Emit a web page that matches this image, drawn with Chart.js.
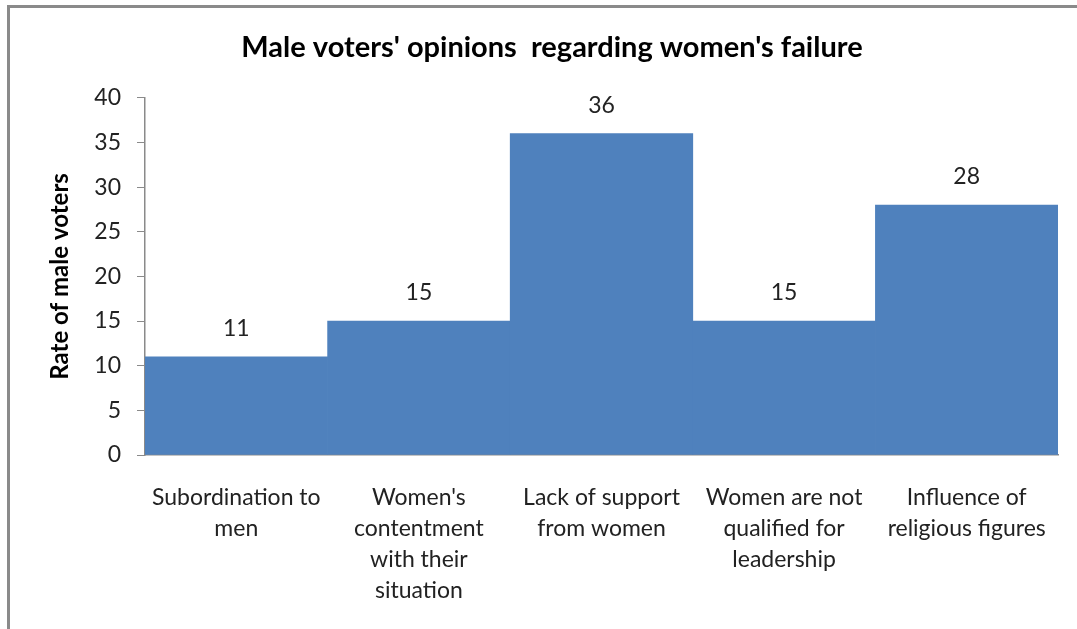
<!DOCTYPE html>
<html>
<head>
<meta charset="utf-8">
<script src="https://cdn.jsdelivr.net/npm/chart.js@4.4.1/dist/chart.umd.min.js"></script>
<style>
    html, body { margin: 0; padding: 0; background: #fff; }
    #wrap { position: relative; width: 1077px; height: 629px; overflow: hidden; }
    #frame {
        position: absolute; left: 7px; top: 5px; width: 1200px; height: 700px;
        border-top: 3px solid #8a8a8a; border-left: 3px solid #8a8a8a;
    }
    #chart { position: absolute; left: 0; top: 0; }
</style>
</head>
<body>
<div id="wrap">
    <div id="frame"></div>
    <canvas id="chart" width="1077" height="629"></canvas>
</div>
<script>
// Chart data
const categories = [
    ['Subordination to', 'men'],
    ["Women's", 'contentment', 'with their', 'situation'],
    ['Lack of support', 'from women'],
    ['Women are not', 'qualified for', 'leadership'],
    ['Influence of', 'religious figures']
];
const rates = [11, 15, 36, 15, 28];
const yTicks = [0, 5, 10, 15, 20, 25, 30, 35, 40];

const FONT = "Lato, 'Open Sans', sans-serif";

// Draw the value above each bar
const valueLabels = {
    id: 'valueLabels',
    afterDatasetsDraw(chart) {
        const ctx = chart.ctx;
        const meta = chart.getDatasetMeta(0);
        ctx.save();
        ctx.font = '23px ' + FONT;
        ctx.fillStyle = '#222';
        ctx.textAlign = 'center';
        ctx.textBaseline = 'middle';
        meta.data.forEach((bar, i) => {
            ctx.fillText(String(rates[i]), bar.x, bar.y - 28);
        });
        ctx.restore();
    }
};

const ctx = document.getElementById('chart').getContext('2d');
new Chart(ctx, {
    type: 'bar',
    data: {
        labels: categories,
        datasets: [{
            data: rates,
            backgroundColor: '#4F81BD',
            borderWidth: 0,
            barPercentage: 1.0,
            categoryPercentage: 1.0
        }]
    },
    options: {
        responsive: false,
        animation: false,
        layout: { padding: { left: 46, right: 19, top: 0, bottom: 0 } },
        plugins: {
            legend: { display: false },
            tooltip: { enabled: false },
            title: {
                display: true,
                text: "Male voters' opinions  regarding women's failure",
                color: '#000',
                font: { family: FONT, size: 29, weight: 'bold' },
                padding: { top: 30, bottom: 33 }
            }
        },
        scales: {
            x: {
                grid: { display: false },
                border: { display: true, color: '#8a8a8a', width: 1.5 },
                ticks: {
                    color: '#222',
                    font: { family: FONT, size: 23, lineHeight: 1.35 },
                    padding: 19,
                    maxRotation: 0,
                    autoSkip: false
                },
                afterFit(scale) { scale.height = 629 - 455; }
            },
            y: {
                min: 0,
                max: 40,
                afterBuildTicks(scale) {
                    scale.ticks = yTicks.map(v => ({ value: v }));
                },
                grid: {
                    drawOnChartArea: false,
                    drawTicks: true,
                    tickLength: 8,
                    color: '#8a8a8a'
                },
                border: { display: true, color: '#8a8a8a', width: 1.5 },
                ticks: {
                    color: '#222',
                    font: { family: FONT, size: 23 },
                    padding: 16
                },
                title: {
                    display: true,
                    text: 'Rate of male voters',
                    color: '#000',
                    font: { family: FONT, size: 24, weight: 'bold' },
                    padding: 0
                },
                afterFit(scale) { scale.width = 145 - 46; }
            }
        }
    },
    plugins: [valueLabels]
});
</script>
</body>
</html>
